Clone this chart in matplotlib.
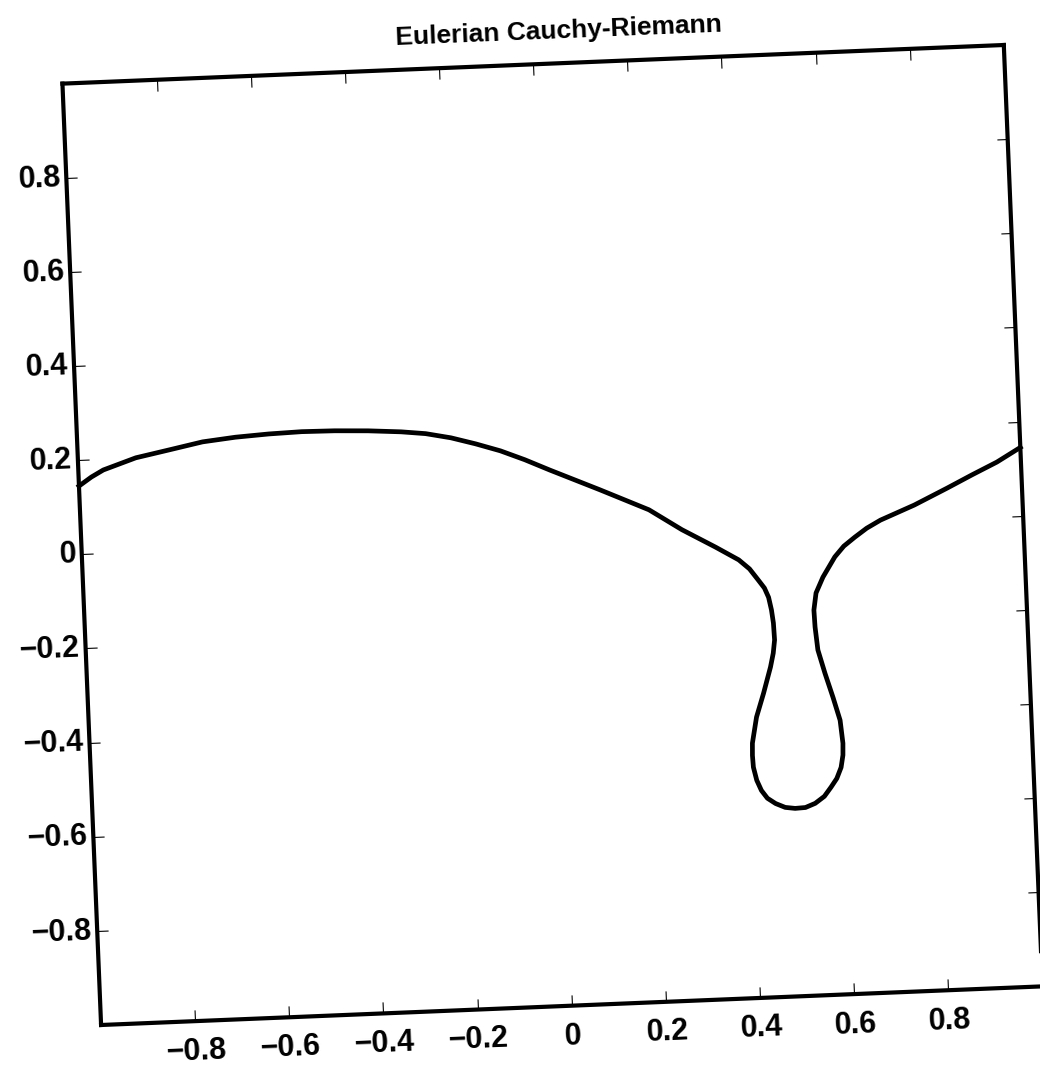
import matplotlib
matplotlib.use("Agg")
import matplotlib.pyplot as plt
from matplotlib.transforms import Affine2D
import mpl_toolkits.axisartist.floating_axes as floating_axes
from mpl_toolkits.axisartist.grid_finder import FixedLocator, DictFormatter

plt.rcParams["font.family"] = ["Liberation Sans", "DejaVu Sans"]

title = "Eulerian Cauchy-Riemann"

# tick positions and labels
x_ticks = [-0.8, -0.6, -0.4, -0.2, 0.0, 0.2, 0.4, 0.6, 0.8]
x_labels = ["\u22120.8", "\u22120.6", "\u22120.4", "\u22120.2", "0", "0.2", "0.4", "0.6", "0.8"]
y_ticks = [-0.8, -0.6, -0.4, -0.2, 0.0, 0.2, 0.4, 0.6, 0.8]
y_labels = ["\u22120.8", "\u22120.6", "\u22120.4", "\u22120.2", "0", "0.2", "0.4", "0.6", "0.8"]

# interface curve (parametric: goes down into the drop and back up)
curve_x = [-1.0, -0.973, -0.947, -0.877, -0.805, -0.734, -0.664, -0.593, -0.523,
           -0.453, -0.382, -0.312, -0.260, -0.207, -0.155, -0.103, -0.052, 0.0,
           0.104, 0.207, 0.275, 0.345, 0.393, 0.415, 0.433, 0.445, 0.453, 0.458,
           0.461, 0.462, 0.458, 0.451, 0.434, 0.417, 0.406, 0.405, 0.406, 0.412,
           0.421, 0.433, 0.450, 0.470, 0.491, 0.513, 0.534, 0.554, 0.569, 0.582,
           0.592, 0.597, 0.598, 0.594, 0.581, 0.566, 0.553, 0.549, 0.548, 0.554,
           0.570, 0.597, 0.617, 0.641, 0.667, 0.697, 0.770, 0.841, 0.895, 0.949, 1.0]
curve_y = [0.145, 0.163, 0.177, 0.200, 0.214, 0.228, 0.235, 0.239, 0.241,
           0.240, 0.237, 0.232, 0.226, 0.215, 0.200, 0.183, 0.162, 0.138,
           0.092, 0.045, 0.000, -0.040, -0.069, -0.089, -0.114, -0.131, -0.151, -0.178,
           -0.206, -0.242, -0.270, -0.299, -0.354, -0.404, -0.459, -0.485, -0.510, -0.538,
           -0.560, -0.577, -0.589, -0.598, -0.601, -0.600, -0.592, -0.578, -0.559, -0.541,
           -0.518, -0.492, -0.467, -0.418, -0.369, -0.317, -0.267, -0.218, -0.182, -0.146,
           -0.113, -0.071, -0.049, -0.031, -0.013, 0.003, 0.032, 0.065, 0.091, 0.116, 0.145]

tilt = 2.35  # the scanned page is slightly rotated

fig = plt.figure(figsize=(10.4, 10.7), dpi=100)

tr = Affine2D().rotate_deg(tilt)
gh = floating_axes.GridHelperCurveLinear(
    tr, extremes=(-1, 1, -1, 1),
    grid_locator1=FixedLocator(x_ticks), grid_locator2=FixedLocator(y_ticks),
    tick_formatter1=DictFormatter(dict(zip(x_ticks, x_labels))),
    tick_formatter2=DictFormatter(dict(zip(y_ticks, y_labels))))
ax = fig.add_axes([0.0482, 0.0329, 0.966, 0.9342],
                  axes_class=floating_axes.FloatingAxes, grid_helper=gh)

for side in ["left", "right", "top", "bottom"]:
    ax.axis[side].line.set_linewidth(3)
    ax.axis[side].major_ticks.set_tick_out(False)
    ax.axis[side].major_ticks.set_ticksize(8)
    ax.axis[side].major_ticks.set_linewidth(2.5)
    ax.axis[side].major_ticklabels.set_fontsize(22)
    ax.axis[side].major_ticklabels.set_fontweight("bold")
ax.axis["top"].major_ticklabels.set_visible(False)
ax.axis["right"].major_ticklabels.set_visible(False)
ax.axis["bottom"].major_ticklabels.set_pad(12)
ax.axis["left"].major_ticklabels.set_pad(4)

aux = ax.get_aux_axes(tr)
aux.plot(curve_x, curve_y, color="k", lw=3.4, solid_joinstyle="round")

fig.text(0.537, 0.971, title, fontsize=19, fontweight="bold", rotation=tilt,
         ha="center", va="center", rotation_mode="anchor")

fig.savefig("out.png", dpi=100)
